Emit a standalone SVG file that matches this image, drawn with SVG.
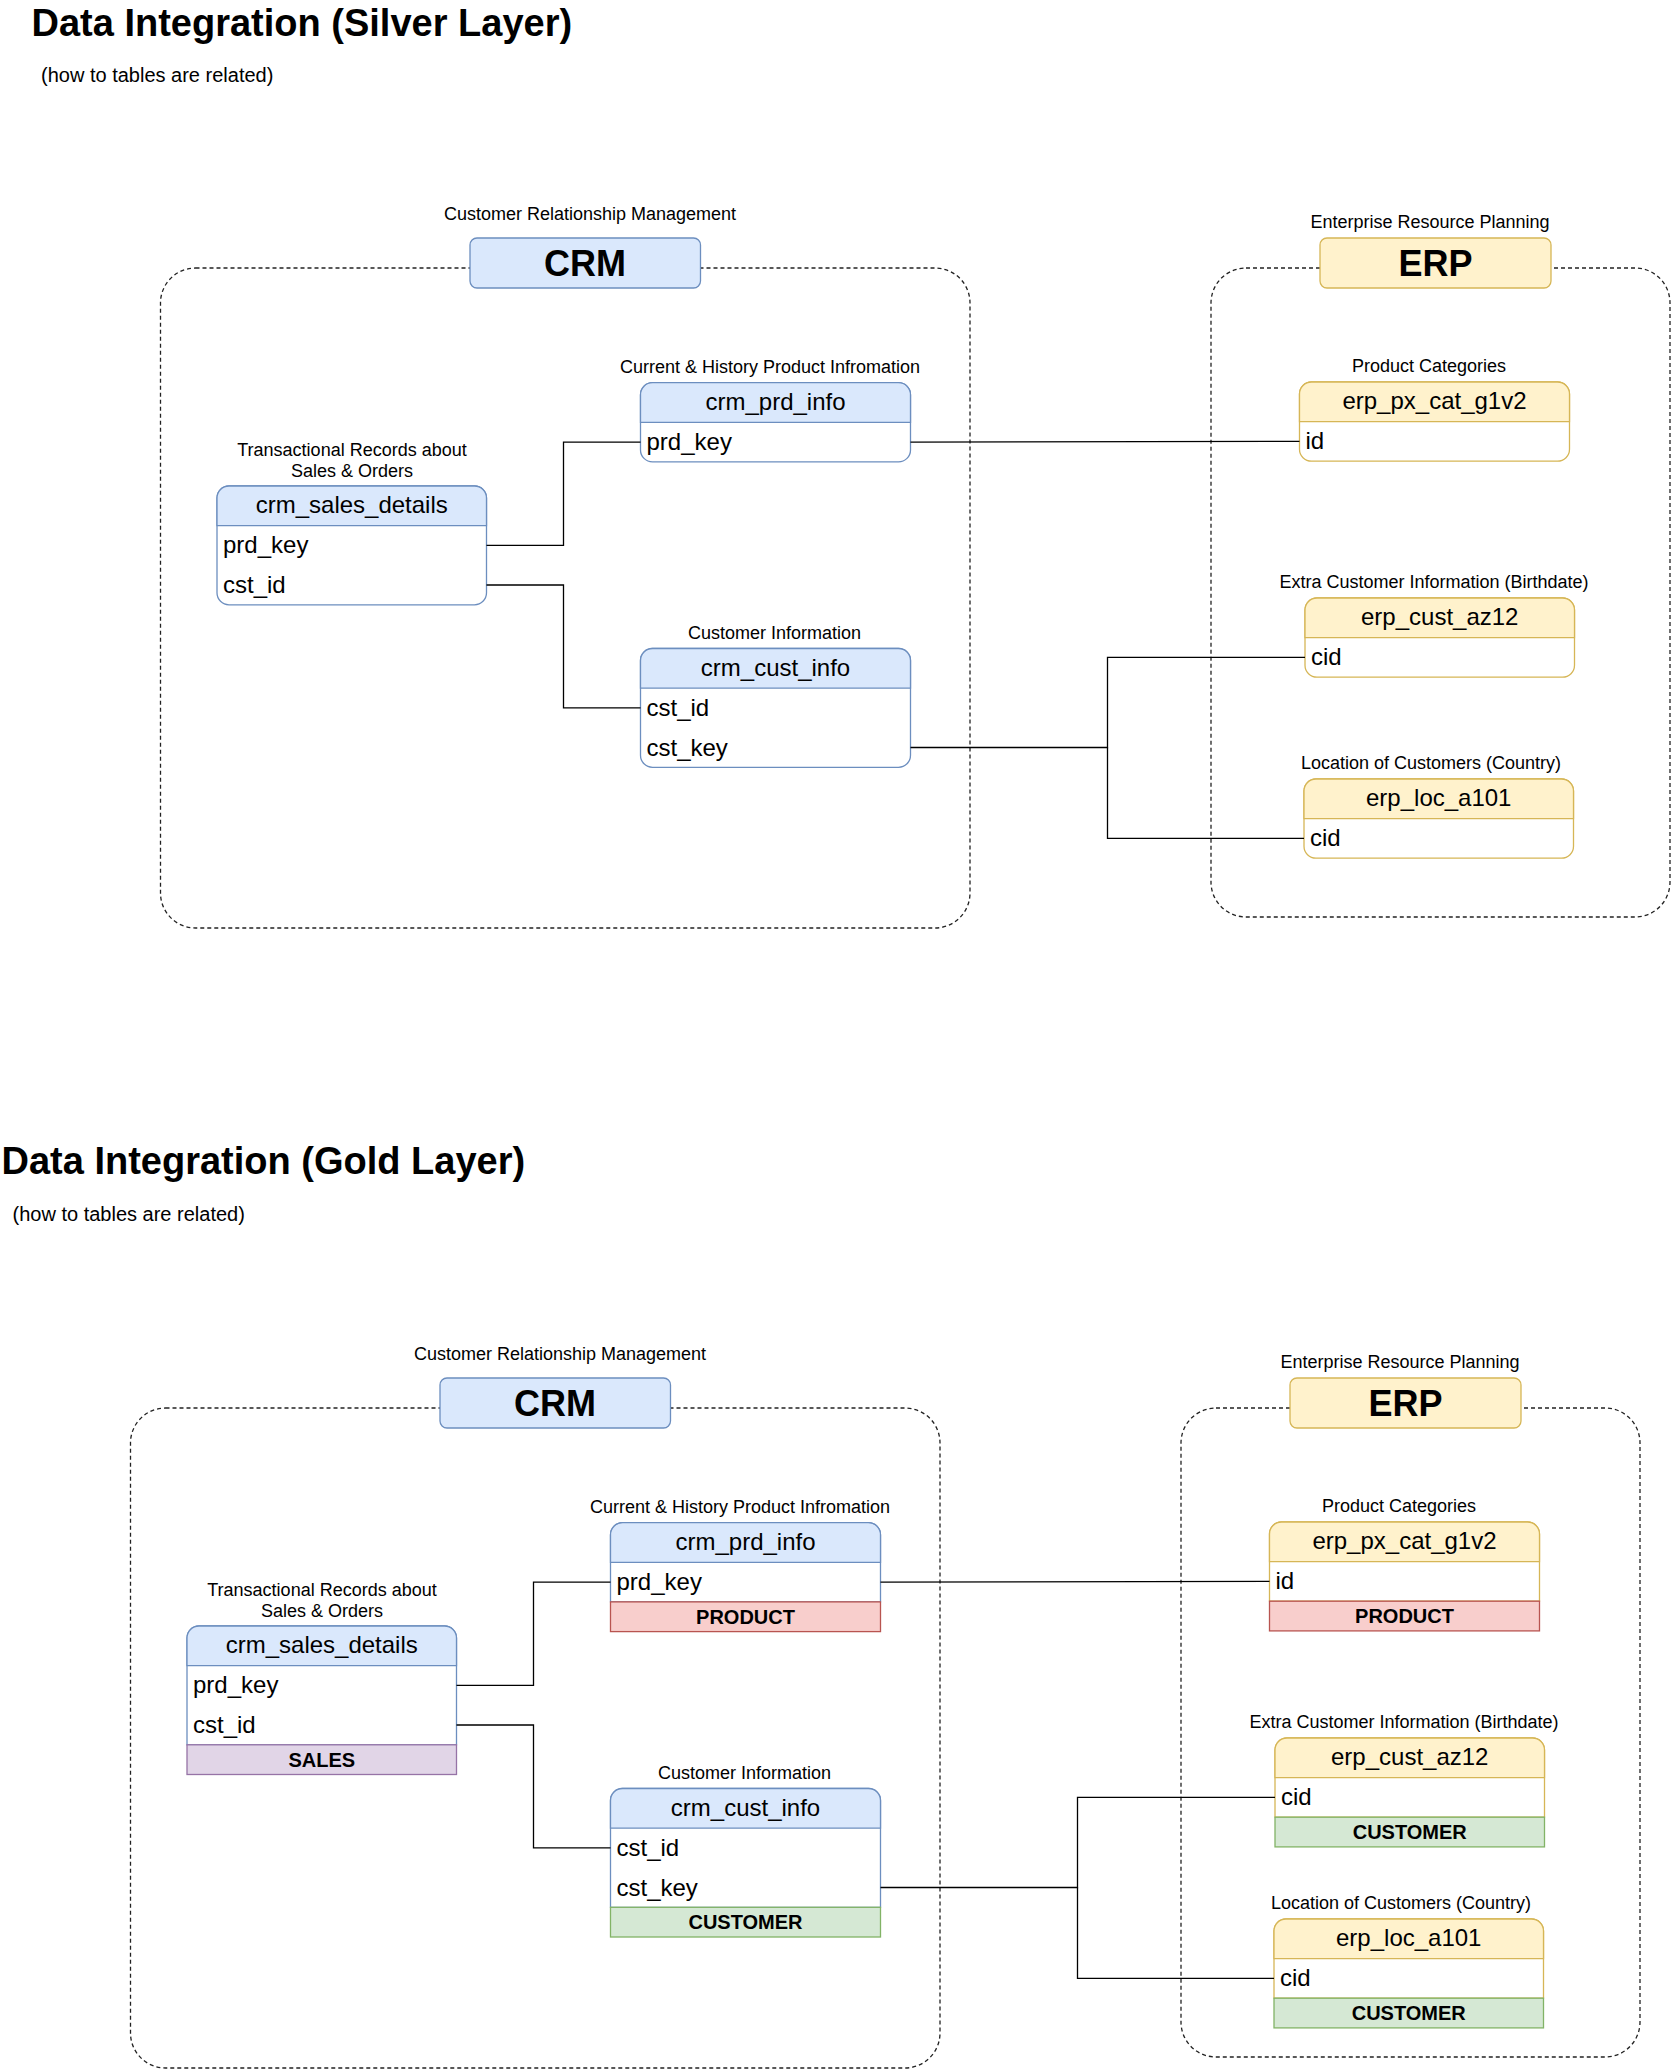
<svg xmlns="http://www.w3.org/2000/svg" width="1671" height="2070" viewBox="0 0 1671 2070">
<style>
text{font-family:"Liberation Sans",Arial,sans-serif;fill:#000}
.title{font-size:38px;font-weight:bold}
.sub{font-size:20px}
.lbl{font-size:18px;text-anchor:middle}
.big{font-size:36px;font-weight:bold;text-anchor:middle}
.hdr{font-size:24px;text-anchor:middle}
.fld{font-size:24px}
.ftr{font-size:20px;font-weight:bold;text-anchor:middle}
.cont{fill:none;stroke:#222;stroke-width:1.3;stroke-dasharray:4 3}
.bbox{fill:#dae8fc;stroke:#6c8ebf;stroke-width:1.3}
.ybox{fill:#fff2cc;stroke:#d6b656;stroke-width:1.3}
.bbody{fill:#fff;stroke:#6c8ebf;stroke-width:1.3}
.ybody{fill:#fff;stroke:#d6b656;stroke-width:1.3}
.red{fill:#f8cecc;stroke:#b85450;stroke-width:1.3}
.grn{fill:#d5e8d4;stroke:#82b366;stroke-width:1.3}
.pur{fill:#e1d5e7;stroke:#9673a6;stroke-width:1.3}
.conn path{fill:none;stroke:#000;stroke-width:1.3}
</style>

<!-- ================= SILVER LAYER ================= -->
<g id="silver-title">
<text class="title" x="31.5" y="36">Data Integration (Silver Layer)</text>
<text class="sub" x="41" y="82">(how to tables are related)</text>
</g>

<g id="s-crm-container"><rect class="cont" x="160.5" y="268" width="809.5" height="660" rx="35"/></g>
<g id="s-erp-container"><rect class="cont" x="1211" y="268" width="459" height="649" rx="35"/></g>

<g id="s-crm-box">
<text class="lbl" x="590" y="219.5">Customer Relationship Management</text>
<rect class="bbox" x="470" y="238" width="230.5" height="50" rx="7"/>
<text class="big" x="585" y="276">CRM</text>
</g>
<g id="s-erp-box">
<text class="lbl" x="1430" y="227.5">Enterprise Resource Planning</text>
<rect class="ybox" x="1320" y="238" width="231" height="50" rx="7"/>
<text class="big" x="1435.5" y="276">ERP</text>
</g>

<g id="s-crm_prd_info">
<text class="lbl" x="770" y="372.5">Current &amp; History Product Infromation</text>
<rect class="bbody" x="640.5" y="382.7" width="270" height="79.2" rx="12"/>
<path class="bbox" d="M640.5,422.3 V394.7 A12,12 0 0 1 652.5,382.7 H898.5 A12,12 0 0 1 910.5,394.7 V422.3 Z"/>
<text class="hdr" x="775.5" y="409.7">crm_prd_info</text>
<text class="fld" x="646.5" y="450.2">prd_key</text>
</g>

<g id="s-crm_sales_details">
<text class="lbl" x="352" y="456">Transactional Records about</text>
<text class="lbl" x="352" y="476.5">Sales &amp; Orders</text>
<rect class="bbody" x="217" y="486" width="269.5" height="118.8" rx="12"/>
<path class="bbox" d="M217,525.6 V498 A12,12 0 0 1 229,486 H474.5 A12,12 0 0 1 486.5,498 V525.6 Z"/>
<text class="hdr" x="351.75" y="513">crm_sales_details</text>
<text class="fld" x="223" y="553.4">prd_key</text>
<text class="fld" x="223" y="593">cst_id</text>
</g>

<g id="s-crm_cust_info">
<text class="lbl" x="774.5" y="639">Customer Information</text>
<rect class="bbody" x="640.5" y="648.5" width="270" height="118.8" rx="12"/>
<path class="bbox" d="M640.5,688.1 V660.5 A12,12 0 0 1 652.5,648.5 H898.5 A12,12 0 0 1 910.5,660.5 V688.1 Z"/>
<text class="hdr" x="775.5" y="675.5">crm_cust_info</text>
<text class="fld" x="646.5" y="715.9">cst_id</text>
<text class="fld" x="646.5" y="755.5">cst_key</text>
</g>

<g id="s-erp_px_cat_g1v2">
<text class="lbl" x="1429" y="372">Product Categories</text>
<rect class="ybody" x="1299.5" y="382" width="270" height="79.2" rx="12"/>
<path class="ybox" d="M1299.5,421.6 V394 A12,12 0 0 1 1311.5,382 H1557.5 A12,12 0 0 1 1569.5,394 V421.6 Z"/>
<text class="hdr" x="1434.5" y="409">erp_px_cat_g1v2</text>
<text class="fld" x="1305.5" y="449.4">id</text>
</g>

<g id="s-erp_cust_az12">
<text class="lbl" x="1434" y="588">Extra Customer Information (Birthdate)</text>
<rect class="ybody" x="1305" y="598" width="269.5" height="79.2" rx="12"/>
<path class="ybox" d="M1305,637.6 V610 A12,12 0 0 1 1317,598 H1562.5 A12,12 0 0 1 1574.5,610 V637.6 Z"/>
<text class="hdr" x="1439.75" y="625">erp_cust_az12</text>
<text class="fld" x="1311" y="665.4">cid</text>
</g>

<g id="s-erp_loc_a101">
<text class="lbl" x="1431" y="769">Location of Customers (Country)</text>
<rect class="ybody" x="1304" y="779" width="269.5" height="79.2" rx="12"/>
<path class="ybox" d="M1304,818.6 V791 A12,12 0 0 1 1316,779 H1561.5 A12,12 0 0 1 1573.5,791 V818.6 Z"/>
<text class="hdr" x="1438.75" y="806">erp_loc_a101</text>
<text class="fld" x="1310" y="846.4">cid</text>
</g>

<g id="s-connectors" class="conn">
<path d="M486.5,545.4 H563.5 V442.1 H640.5"/>
<path d="M486.5,585 H563.5 V707.9 H640.5"/>
<path d="M910.5,442.1 L1299.5,441.4"/>
<path d="M910.5,747.5 H1107.5 V657.4 H1305"/>
<path d="M1107.5,747.5 V838.4 H1304"/>
</g>

<!-- ================= GOLD LAYER ================= -->
<g id="gold-title">
<text class="title" x="1.5" y="1174">Data Integration (Gold Layer)</text>
<text class="sub" x="12.5" y="1221">(how to tables are related)</text>
</g>

<g transform="translate(-30,1140)">
<g id="g-crm-container"><rect class="cont" x="160.5" y="268" width="809.5" height="660" rx="35"/></g>
<g id="g-erp-container"><rect class="cont" x="1211" y="268" width="459" height="649" rx="35"/></g>

<g id="g-crm-box">
<text class="lbl" x="590" y="219.5">Customer Relationship Management</text>
<rect class="bbox" x="470" y="238" width="230.5" height="50" rx="7"/>
<text class="big" x="585" y="276">CRM</text>
</g>
<g id="g-erp-box">
<text class="lbl" x="1430" y="227.5">Enterprise Resource Planning</text>
<rect class="ybox" x="1320" y="238" width="231" height="50" rx="7"/>
<text class="big" x="1435.5" y="276">ERP</text>
</g>

<g id="g-crm_prd_info">
<text class="lbl" x="770" y="372.5">Current &amp; History Product Infromation</text>
<path class="bbody" d="M640.5,461.9 V394.7 A12,12 0 0 1 652.5,382.7 H898.5 A12,12 0 0 1 910.5,394.7 V461.9 Z"/>
<path class="bbox" d="M640.5,422.3 V394.7 A12,12 0 0 1 652.5,382.7 H898.5 A12,12 0 0 1 910.5,394.7 V422.3 Z"/>
<text class="hdr" x="775.5" y="409.7">crm_prd_info</text>
<text class="fld" x="646.5" y="450.2">prd_key</text>
<rect class="red" x="640.5" y="461.9" width="270" height="29.7"/>
<text class="ftr" x="775.5" y="483.8">PRODUCT</text>
</g>

<g id="g-crm_sales_details">
<text class="lbl" x="352" y="456">Transactional Records about</text>
<text class="lbl" x="352" y="476.5">Sales &amp; Orders</text>
<path class="bbody" d="M217,604.8 V498 A12,12 0 0 1 229,486 H474.5 A12,12 0 0 1 486.5,498 V604.8 Z"/>
<path class="bbox" d="M217,525.6 V498 A12,12 0 0 1 229,486 H474.5 A12,12 0 0 1 486.5,498 V525.6 Z"/>
<text class="hdr" x="351.75" y="513">crm_sales_details</text>
<text class="fld" x="223" y="553.4">prd_key</text>
<text class="fld" x="223" y="593">cst_id</text>
<rect class="pur" x="217" y="604.8" width="269.5" height="29.7"/>
<text class="ftr" x="351.75" y="626.7">SALES</text>
</g>

<g id="g-crm_cust_info">
<text class="lbl" x="774.5" y="639">Customer Information</text>
<path class="bbody" d="M640.5,767.3 V660.5 A12,12 0 0 1 652.5,648.5 H898.5 A12,12 0 0 1 910.5,660.5 V767.3 Z"/>
<path class="bbox" d="M640.5,688.1 V660.5 A12,12 0 0 1 652.5,648.5 H898.5 A12,12 0 0 1 910.5,660.5 V688.1 Z"/>
<text class="hdr" x="775.5" y="675.5">crm_cust_info</text>
<text class="fld" x="646.5" y="715.9">cst_id</text>
<text class="fld" x="646.5" y="755.5">cst_key</text>
<rect class="grn" x="640.5" y="767.3" width="270" height="29.7"/>
<text class="ftr" x="775.5" y="789.2">CUSTOMER</text>
</g>

<g id="g-erp_px_cat_g1v2">
<text class="lbl" x="1429" y="372">Product Categories</text>
<path class="ybody" d="M1299.5,461.2 V394 A12,12 0 0 1 1311.5,382 H1557.5 A12,12 0 0 1 1569.5,394 V461.2 Z"/>
<path class="ybox" d="M1299.5,421.6 V394 A12,12 0 0 1 1311.5,382 H1557.5 A12,12 0 0 1 1569.5,394 V421.6 Z"/>
<text class="hdr" x="1434.5" y="409">erp_px_cat_g1v2</text>
<text class="fld" x="1305.5" y="449.4">id</text>
<rect class="red" x="1299.5" y="461.2" width="270" height="29.7"/>
<text class="ftr" x="1434.5" y="483.1">PRODUCT</text>
</g>

<g id="g-erp_cust_az12">
<text class="lbl" x="1434" y="588">Extra Customer Information (Birthdate)</text>
<path class="ybody" d="M1305,677.2 V610 A12,12 0 0 1 1317,598 H1562.5 A12,12 0 0 1 1574.5,610 V677.2 Z"/>
<path class="ybox" d="M1305,637.6 V610 A12,12 0 0 1 1317,598 H1562.5 A12,12 0 0 1 1574.5,610 V637.6 Z"/>
<text class="hdr" x="1439.75" y="625">erp_cust_az12</text>
<text class="fld" x="1311" y="665.4">cid</text>
<rect class="grn" x="1305" y="677.2" width="269.5" height="29.7"/>
<text class="ftr" x="1439.75" y="699.1">CUSTOMER</text>
</g>

<g id="g-erp_loc_a101">
<text class="lbl" x="1431" y="769">Location of Customers (Country)</text>
<path class="ybody" d="M1304,858.2 V791 A12,12 0 0 1 1316,779 H1561.5 A12,12 0 0 1 1573.5,791 V858.2 Z"/>
<path class="ybox" d="M1304,818.6 V791 A12,12 0 0 1 1316,779 H1561.5 A12,12 0 0 1 1573.5,791 V818.6 Z"/>
<text class="hdr" x="1438.75" y="806">erp_loc_a101</text>
<text class="fld" x="1310" y="846.4">cid</text>
<rect class="grn" x="1304" y="858.2" width="269.5" height="29.7"/>
<text class="ftr" x="1438.75" y="880.1">CUSTOMER</text>
</g>

<g id="g-connectors" class="conn">
<path d="M486.5,545.4 H563.5 V442.1 H640.5"/>
<path d="M486.5,585 H563.5 V707.9 H640.5"/>
<path d="M910.5,442.1 L1299.5,441.4"/>
<path d="M910.5,747.5 H1107.5 V657.4 H1305"/>
<path d="M1107.5,747.5 V838.4 H1304"/>
</g>
</g>
</svg>
